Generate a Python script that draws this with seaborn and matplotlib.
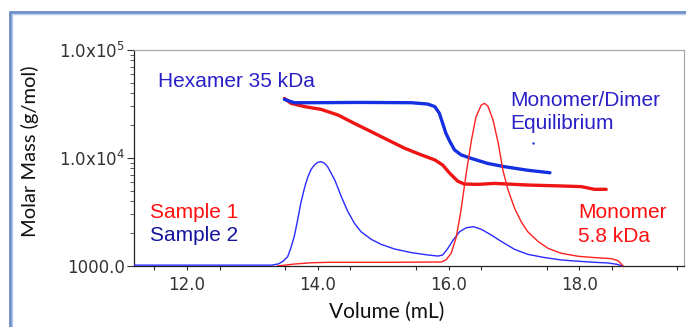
import numpy as np
import pandas as pd
import matplotlib
matplotlib.use("Agg")
import matplotlib.pyplot as plt
import seaborn as sns
from matplotlib.ticker import FixedLocator, NullFormatter, FixedFormatter, LogLocator
from matplotlib.lines import Line2D

# ---------------- data ----------------
# Sample 2 chromatogram (relative detector signal)
s2_trace_vol = [11.20, 13.30, 13.40, 13.47, 13.54, 13.59, 13.64, 13.69, 13.74, 13.80, 13.85,
                13.90, 13.95, 14.00, 14.05, 14.10, 14.15, 14.20, 14.26, 14.31, 14.36, 14.46,
                14.56, 14.66, 14.82, 14.97, 15.17, 15.43, 15.68, 15.84, 15.91, 15.99, 16.07,
                16.17, 16.27, 16.38, 16.50, 16.65, 16.81, 17.01, 17.21, 17.47, 17.72, 17.98,
                18.23, 18.44, 18.57, 18.67]
s2_trace_sig = [0.004, 0.004, 0.010, 0.022, 0.043, 0.085, 0.136, 0.210, 0.290, 0.365, 0.414,
                0.448, 0.468, 0.480, 0.483, 0.476, 0.460, 0.432, 0.398, 0.360, 0.321, 0.252,
                0.198, 0.159, 0.123, 0.100, 0.079, 0.062, 0.051, 0.046, 0.051, 0.082, 0.120,
                0.159, 0.177, 0.182, 0.170, 0.144, 0.113, 0.077, 0.054, 0.039, 0.028, 0.022,
                0.017, 0.014, 0.008, 0.000]

# Sample 1 chromatogram (relative detector signal)
s1_trace_vol = [13.38, 13.50, 13.64, 13.90, 14.15, 15.00, 15.89, 15.96, 16.04, 16.12, 16.19,
                16.27, 16.35, 16.42, 16.50, 16.55, 16.60, 16.68, 16.76, 16.83, 16.91, 17.01,
                17.11, 17.21, 17.37, 17.52, 17.72, 17.98, 18.23, 18.49, 18.59, 18.67]
s1_trace_sig = [0.000, 0.004, 0.009, 0.015, 0.017, 0.017, 0.0185, 0.028, 0.059, 0.136, 0.259,
                0.429, 0.583, 0.691, 0.745, 0.753, 0.741, 0.676, 0.568, 0.444, 0.352, 0.267,
                0.205, 0.159, 0.113, 0.082, 0.059, 0.045, 0.039, 0.034, 0.025, 0.000]

# Molar mass (g/mol)
s2_mm_vol = [13.49, 13.64, 13.90, 14.66, 15.43, 15.68, 15.79, 15.86, 15.91, 15.96, 16.02,
             16.09, 16.19, 16.35, 16.60, 16.86, 17.21, 17.55]
s2_mm = [34900, 32500, 32500, 32700, 32500, 31600, 29900, 25900, 20900, 16900, 14200,
         11900, 10700, 9900, 8900, 8300, 7700, 7300]
s2_outlier_vol = [17.29]
s2_outlier_mm = [13900]

s1_mm_vol = [13.49, 13.59, 13.80, 14.05, 14.31, 14.56, 14.82, 15.07, 15.33, 15.58, 15.79,
             15.91, 16.02, 16.14, 16.24, 16.45, 16.70, 17.21, 17.72, 18.03, 18.23, 18.41]
s1_mm = [35600, 32100, 29900, 28200, 25000, 20900, 17500, 14700, 12300, 10700, 9600,
         8600, 7200, 6100, 5740, 5700, 5820, 5620, 5510, 5430, 5130, 5130]

x_ticks = [12.0, 14.0, 16.0, 18.0]
x_tick_labels = ["12.0", "14.0", "16.0", "18.0"]
y_ticks = [1000, 10000, 100000]
y_tick_labels = ["1000.0", "1.0x10$^{4}$", "1.0x10$^{5}$"]

# ---------------- figure ----------------
sns.set_style("white")
plt.rcParams["font.family"] = ["DejaVu Sans"]
plt.rcParams["mathtext.fontset"] = "dejavusans"

W, H = 686, 327
fig = plt.figure(figsize=(W / 100, H / 100), dpi=100)
ax = fig.add_axes([134 / W, 1 - 266 / H, 550 / W, 216 / H])

ax.set_yscale("log")
ax.set_ylim(1000, 100000)
ax.set_xlim(11.19, 19.6)

mm_df1 = pd.DataFrame({"vol": s1_mm_vol, "mm": s1_mm})
mm_df2 = pd.DataFrame({"vol": s2_mm_vol, "mm": s2_mm})
sns.lineplot(data=mm_df1, x="vol", y="mm", ax=ax, color="#ee1515", lw=2.4,
             sort=False, estimator=None)
sns.lineplot(data=mm_df2, x="vol", y="mm", ax=ax, color="#1530e0", lw=2.4,
             sort=False, estimator=None)
sns.scatterplot(x=s2_outlier_vol, y=s2_outlier_mm, ax=ax, color="#1530e0", s=3,
                linewidth=0)

ax2 = ax.twinx()
ax2.set_ylim(0, 1)
tr_df1 = pd.DataFrame({"vol": s1_trace_vol, "sig": s1_trace_sig})
tr_df2 = pd.DataFrame({"vol": s2_trace_vol, "sig": s2_trace_sig})
sns.lineplot(data=tr_df2, x="vol", y="sig", ax=ax2, color="#2a2aff", lw=1.0,
             sort=False, estimator=None)
sns.lineplot(data=tr_df1, x="vol", y="sig", ax=ax2, color="#ff2020", lw=1.0,
             sort=False, estimator=None)
ax2.set_xlim(11.19, 19.6)
ax2.axis("off")

# axes styling
for side in ["left", "bottom"]:
    ax.spines[side].set_color("#222222")
    ax.spines[side].set_linewidth(0.9)
for side in ["top", "right"]:
    ax.spines[side].set_color("#a8a8a8")
    ax.spines[side].set_linewidth(0.9)

ax.xaxis.set_major_locator(FixedLocator(x_ticks))
ax.xaxis.set_major_formatter(FixedFormatter(x_tick_labels))
ax.xaxis.set_minor_locator(FixedLocator(np.arange(11.5, 19.6, 1.0)))
ax.yaxis.set_major_locator(FixedLocator(y_ticks))
ax.yaxis.set_major_formatter(FixedFormatter(y_tick_labels))
ax.yaxis.set_minor_locator(LogLocator(base=10, subs=np.arange(2, 10)))
ax.yaxis.set_minor_formatter(NullFormatter())

ax.tick_params(axis="x", which="both", direction="out", length=3, width=0.8,
               color="#333333", pad=4, labelsize=12, labelcolor="#333333", bottom=True)
ax.tick_params(axis="y", which="major", direction="out", length=5, width=0.8,
               color="#333333", pad=1.5, labelsize=12, labelcolor="#333333", left=True)
ax.tick_params(axis="y", which="minor", direction="out", length=3, width=0.7,
               color="#555555", left=True)

ax.set_xlabel("Volume (mL)", family=["Lato", "DejaVu Sans"], fontsize=15, color="#111111",
              va="center", ha="center")
ax.set_ylabel("Molar Mass (g/mol)", family=["Lato", "DejaVu Sans"], fontsize=14.5,
              color="#111111", va="center", ha="center")
ax.xaxis.set_label_coords(0.46, -0.213)
ax.yaxis.set_label_coords(-0.189, 0.532)

# annotations
ann = dict(transform=ax.transAxes, family=["Liberation Sans", "DejaVu Sans"],
           fontsize=15, va="baseline", ha="left")
ax.text(0.0436, 0.830, "Hexamer 35 kDa", color="#2a20c8", **ann)
ax.text(0.685, 0.741, "Monomer/Dimer", color="#2a20c8", **ann)
ax.text(0.685, 0.633, "Equilibrium", color="#2a20c8", **ann)
ax.text(0.030, 0.221, "Sample 1", color="#ff1010", **ann)
ax.text(0.030, 0.117, "Sample 2", color="#14149c", **ann)
ax.text(0.808, 0.221, "Monomer", color="#ff1010", **ann)
ax.text(0.808, 0.1125, "5.8 kDa", color="#ff1010", **ann)

# outer picture frame
fx = 9.5 / W
fy = 1 - 11.5 / H
fig.add_artist(Line2D([fx, fx], [0, fy], transform=fig.transFigure, color="#6a8cc4", lw=2.0))
fig.add_artist(Line2D([fx, 1.0], [fy, fy], transform=fig.transFigure, color="#6a8cc4", lw=2.0))
fig.add_artist(Line2D([fx + 2.2 / W, fx + 2.2 / W], [0, fy - 2.2 / H], transform=fig.transFigure,
                      color="#b9cbe6", lw=1.0))
fig.add_artist(Line2D([fx + 2.2 / W, 1.0], [fy - 2.2 / H, fy - 2.2 / H], transform=fig.transFigure,
                      color="#b9cbe6", lw=1.0))

fig.savefig("out.png", dpi=100)
